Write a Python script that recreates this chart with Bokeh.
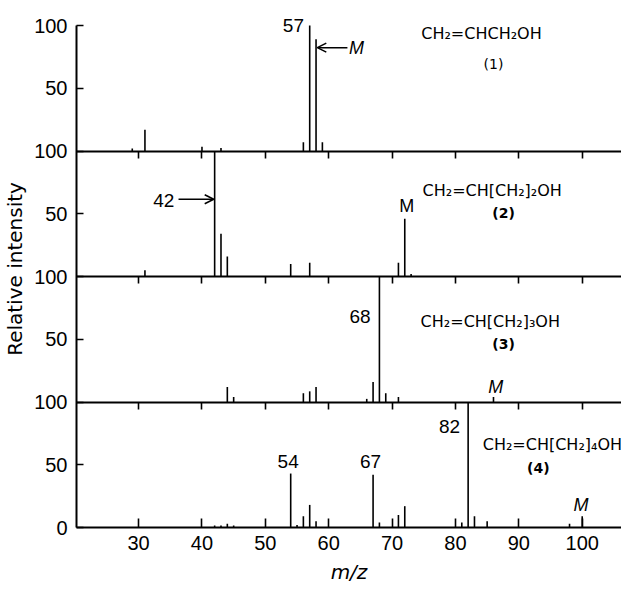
from bokeh.plotting import figure
from bokeh.models import LinearAxis, FixedTicker, Range1d, Label, Arrow, OpenHead, ColumnDataSource
from bokeh.embed import file_html
from bokeh.resources import INLINE

# ---- data ----
mz1 = [29, 31, 40, 43, 56, 57, 58, 59]
int1 = [2, 17, 3.5, 2.5, 7, 100, 89, 7]
mz2 = [31, 42, 43, 44, 54, 57, 71, 72, 73]
int2 = [5, 100, 34, 16, 10, 11, 11, 46, 2]
mz3 = [44, 45, 56, 57, 58, 66, 67, 68, 69, 71, 86]
int3 = [12, 4, 7, 8.5, 12, 2.5, 16, 100, 7, 4, 4]
mz4 = [42, 43, 44, 45, 54, 55, 56, 57, 58, 67, 68, 71, 72, 81, 82, 83, 85, 98, 100]
int4 = [1.5, 1.5, 3, 1.5, 43, 2, 9, 18, 5, 42, 4, 10, 17, 4, 100, 9, 5, 3, 9]
formulas = ["CH₂=CHCH₂OH", "CH₂=CH[CH₂]₂OH", "CH₂=CH[CH₂]₃OH", "CH₂=CH[CH₂]₄OH"]
compound_ids = ["(1)", "(2)", "(3)", "(4)"]
x_ticks = [30, 40, 50, 60, 70, 80, 90, 100]
y_tick_values = [0, 50, 100]
y_tick_labels = ["0", "50", "100"]

spectra = [(mz1, int1), (mz2, int2), (mz3, int3), (mz4, int4)]
n = len(spectra)
span = 100  # each panel spans 0..100 relative intensity

# stacked segments: top panel = compound (1)
xs, y0s, y1s = [], [], []
for i, (mz, inten) in enumerate(spectra):
    off = (n - 1 - i) * span
    for m, v in zip(mz, inten):
        xs.append(m)
        y0s.append(off)
        y1s.append(off + v)
src = ColumnDataSource(dict(x=xs, y0=y0s, y1=y1s))

p = figure(width=621, height=588, output_backend="svg", toolbar_location=None,
           x_range=Range1d(20.2, 106.2), y_range=Range1d(0, n * span + 12),
           min_border_left=70, min_border_right=0, min_border_top=10, min_border_bottom=61,
           x_axis_label="m/z", y_axis_label="Relative intensity")
p.outline_line_color = None
p.grid.visible = False
p.background_fill_color = "white"

p.segment(x0="x", y0="y0", x1="x", y1="y1", source=src, line_color="black", line_width=1.6)

NUM_FONT = "Liberation Sans"

# bottom x axis
xa = p.xaxis[0]
xa.ticker = FixedTicker(ticks=x_ticks)
xa.minor_tick_line_color = None
xa.major_tick_in = 9
xa.major_tick_out = 0
xa.axis_line_width = 2
xa.axis_line_color = "black"
xa.major_tick_line_width = 1.6
xa.major_label_text_font = NUM_FONT
xa.major_label_text_font_size = "20px"
xa.major_label_text_color = "black"
xa.major_label_standoff = 8
xa.axis_label_text_font = "DejaVu Sans"
xa.axis_label_text_font_style = "italic"
xa.axis_label_text_font_size = "20px"
xa.axis_label_text_color = "black"
xa.axis_label_standoff = 7

# left y axis: one axis for all panels, labels repeat 0/50/100
ticks = []
overrides = {}
for k in range(n):
    for v, lab in zip(y_tick_values, y_tick_labels):
        t = k * span + v
        if t not in overrides:
            ticks.append(t)
            overrides[t] = lab
ya = p.yaxis[0]
ya.ticker = FixedTicker(ticks=ticks)
ya.major_label_overrides = overrides
ya.bounds = (0, n * span)
ya.minor_tick_line_color = None
ya.major_tick_in = 7
ya.major_tick_out = 0
ya.axis_line_width = 2
ya.axis_line_color = "black"
ya.major_tick_line_width = 1.6
ya.major_label_text_font = NUM_FONT
ya.major_label_text_font_size = "20px"
ya.major_label_text_color = "black"
ya.major_label_standoff = 9
ya.axis_label_text_font = "DejaVu Sans"
ya.axis_label_text_font_style = "normal"
ya.axis_label_text_font_size = "20px"
ya.axis_label_text_color = "black"
ya.axis_label_standoff = 4

# baselines between panels, with ticks hanging into the lower panel
for k in range(1, n):
    ax = LinearAxis(fixed_location=k * span, ticker=FixedTicker(ticks=x_ticks))
    ax.major_tick_in = 7
    ax.major_tick_out = 0
    ax.minor_tick_line_color = None
    ax.major_label_overrides = {t: "" for t in x_ticks}
    ax.major_label_text_font_size = "1px"
    ax.major_label_standoff = 0
    ax.axis_line_width = 2
    ax.axis_line_color = "black"
    ax.major_tick_line_width = 1.6
    p.add_layout(ax, "above")


def lab(x, y, text, align="center", size="19px", font=NUM_FONT, style="normal"):
    p.add_layout(Label(x=x, y=y, text=text, text_align=align, text_baseline="middle",
                       text_font=font, text_font_size=size, text_font_style=style,
                       text_color="black"))


def arrow(x0, x1, y):
    p.add_layout(Arrow(end=OpenHead(size=9, line_width=1.5), x_start=x0, y_start=y,
                       x_end=x1, y_end=y, line_width=1.5))


F = "DejaVu Sans"
# panel 1
o = 3 * span
lab(56.1, o + 100.4, "57", align="right")
arrow(62.95, 58.2, o + 82.4)
lab(63.2, o + 82.4, "M", align="left", size="18px", style="italic")
lab(74.6, o + 93.6, formulas[0], align="left", size="16px", font=F)
lab(86.0, o + 69.5, compound_ids[0], size="14px", font=F)
# panel 2
o = 2 * span
lab(35.65, o + 60.3, "42", align="right")
arrow(36.3, 41.85, o + 61.6)
lab(72.3, o + 56.3, "M", size="18px")
lab(74.8, o + 68.3, formulas[1], align="left", size="16px", font=F)
lab(87.6, o + 51.0, compound_ids[1], size="14px", font=F, style="bold")
# panel 3
o = 1 * span
lab(66.62, o + 68.5, "68", align="right")
lab(74.5, o + 64.5, formulas[2], align="left", size="16px", font=F)
lab(87.6, o + 46.5, compound_ids[2], size="14px", font=F, style="bold")
lab(86.35, o + 11.8, "M", size="18px", style="italic")
# panel 4
o = 0
lab(80.74, o + 80.1, "82", align="right")
lab(84.3, o + 66.3, formulas[3], align="left", size="16px", font=F)
lab(93.07, o + 47.1, compound_ids[3], size="14px", font=F, style="bold")
lab(53.6, o + 52.7, "54")
lab(66.6, o + 52.7, "67")
lab(99.8, o + 17.8, "M", size="18px", style="italic")

open("out.html", "w").write(file_html(p, INLINE))
